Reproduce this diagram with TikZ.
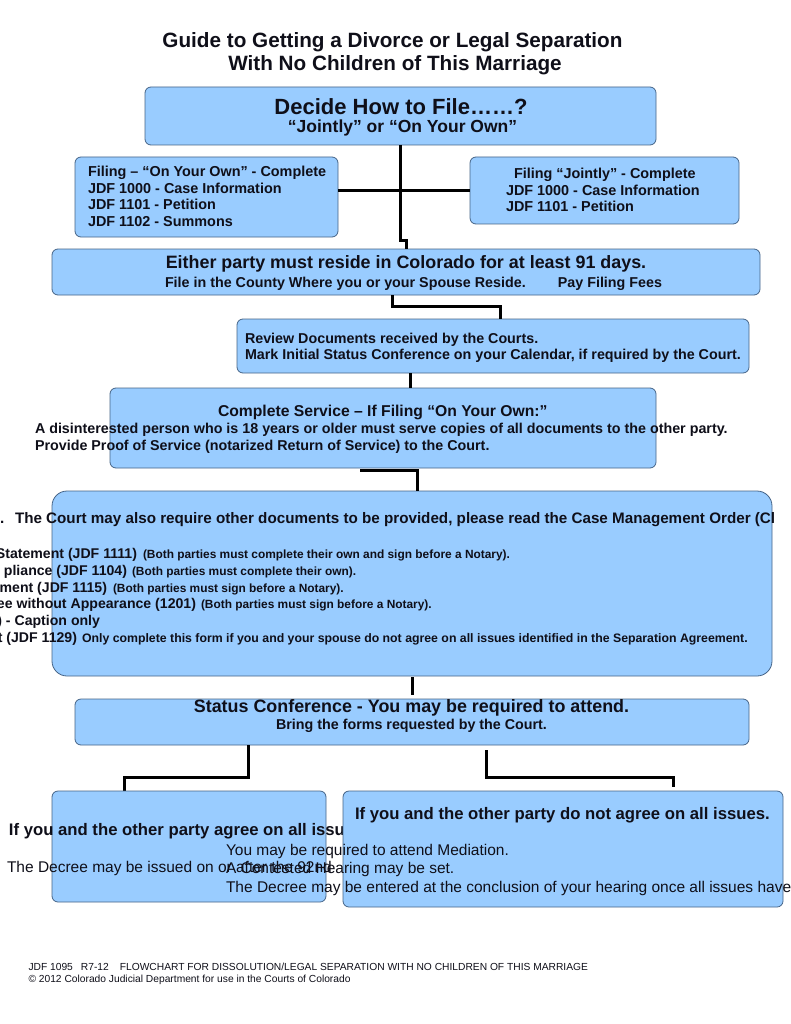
\documentclass[tikz,border=0pt]{standalone}
\usepackage{fontspec}
\setmainfont{Liberation Sans}
\definecolor{boxfill}{RGB}{153,204,255}
\definecolor{boxline}{RGB}{70,100,135}
\definecolor{ink}{RGB}{15,15,25}
\tikzset{
  box/.style={draw=boxline, fill=boxfill, line width=0.8pt, rounded corners=6pt, inner sep=0pt, outer sep=0pt},
  conn/.style={line width=3pt, draw=black},
  tx/.style={inner sep=0pt, outer sep=0pt, text=ink},
  bA/.style={tx, font=\fontsize{20.7}{24}\selectfont\bfseries},
  bB/.style={tx, font=\fontsize{22}{26}\selectfont\bfseries},
  bC/.style={tx, font=\fontsize{17.5}{20}\selectfont\bfseries},
  bD/.style={tx, font=\fontsize{14.4}{17}\selectfont\bfseries},
  bE/.style={tx, font=\fontsize{17.9}{21}\selectfont\bfseries},
  bF/.style={tx, font=\fontsize{14.3}{17}\selectfont\bfseries},
  bS/.style={tx, font=\fontsize{15.7}{19}\selectfont\bfseries},
  bT/.style={tx, font=\fontsize{15.2}{18}\selectfont\bfseries},
  bK/.style={tx, font=\fontsize{14.1}{17}\selectfont\bfseries},
  bG/.style={tx, font=\fontsize{16.7}{20}\selectfont\bfseries},
  bH/.style={tx, font=\fontsize{11.9}{14}\selectfont\bfseries},
  bJ/.style={tx, font=\fontsize{12.3}{14}\selectfont\bfseries},
  rA/.style={tx, font=\fontsize{15.5}{18}\selectfont},
  rB/.style={tx, font=\fontsize{10.25}{12}\selectfont},
}
\begin{document}
\begin{tikzpicture}[x=1pt,y=-1pt]
\useasboundingbox (0,0) rectangle (791,1024);
\fill[white] (0,0) rectangle (791,1024);
\clip (0,0) rectangle (791,1024);

% title
\node[bA, anchor=base] (title1) at (392.5,48) {Guide to Getting a Divorce or Legal Separation};
\node[bA, anchor=base] (title2) at (395,71) {With No Children of This Marriage};

% boxes
\node[box, minimum width=511pt, minimum height=58pt] (decide) at (400.5,116) {};
\node[box, minimum width=263pt, minimum height=80pt] (own) at (206.5,197) {};
\node[box, minimum width=269pt, minimum height=67pt] (joint) at (604.5,190.5) {};
\node[box, minimum width=708pt, minimum height=46pt] (either) at (406,272) {};
\node[box, minimum width=512pt, minimum height=54pt] (review) at (493,346) {};
\node[box, minimum width=546pt, minimum height=80pt] (service) at (383,428) {};
\node[box, rounded corners=15pt, minimum width=720pt, minimum height=185pt] (big) at (412,583.5) {};
\node[box, minimum width=674pt, minimum height=46pt] (status) at (412,722) {};

% connectors
\coordinate (j1) at (406,240);
\draw[conn] (decide.south) |- (j1) -- (j1 |- either.north);
\draw[conn] (own.east |- joint.west) -- (joint.west);
\coordinate (j2a) at (392,306);
\coordinate (j2b) at (500,306);
\draw[conn] (either.south -| j2a) -- (j2a) -- (j2b) -- (j2b |- review.north);
\coordinate (j3) at (410,380);
\draw[conn] (review.south -| j3) -- (service.north -| j3);
\coordinate (j4a) at (360,470);
\coordinate (j4b) at (417,470);
\draw[conn] (j4a) -- (j4b) -- (j4b |- big.north);
\coordinate (j5) at (412,686);
\draw[conn, shorten <=1pt, shorten >=4pt] (big.south -| j5) -- (status.north -| j5);
\coordinate (j6a) at (248,777);
\coordinate (j6b) at (124,777);
\draw[conn] (status.south -| j6a) -- (j6a) -- (j6b) -- (j6b |- 0,791);
\coordinate (j7a) at (486,777);
\coordinate (j7b) at (673,777);
\draw[conn, shorten <=5pt, shorten >=4pt] (status.south -| j7a) -- (j7a) -- (j7b) -- (j7b |- 0,791);

% decide text
\node[bB, anchor=base] (d1) at (401,115) {Decide How to File……?};
\node[bC, anchor=base] (d2) at (402.5,133) {“Jointly” or “On Your Own”};

% own box text
\node[bD, anchor=base west] (o1) at (88,177) {Filing – “On Your Own” - Complete};
\node[bD, anchor=base west] (o2) at (88,193.5) {JDF 1000 - Case Information};
\node[bD, anchor=base west] (o3) at (88,210) {JDF 1101 - Petition};
\node[bD, anchor=base west] (o4) at (88,226.5) {JDF 1102 - Summons};

% joint box text
\node[bD, anchor=base west] (p1) at (514,178.5) {Filing “Jointly” - Complete};
\node[bD, anchor=base west] (p2) at (506,195.5) {JDF 1000 - Case Information};
\node[bD, anchor=base west] (p3) at (506,212) {JDF 1101 - Petition};

% either text
\node[bE, anchor=base] (e1) at (406,268.5) {Either party must reside in Colorado for at least 91 days.};
\node[bF, anchor=base west] (e2) at (165,287.5) {File in the County Where you or your Spouse Reside.};
\node[bF, anchor=base east] (e3) at (662,287.5) {Pay Filing Fees};

% review text
\node[bF, anchor=base west] (r1) at (245,343) {Review Documents received by the Courts.};
\node[bF, anchor=base west] (r2) at (245,359.5) {Mark Initial Status Conference on your Calendar, if required by the Court.};

% service text
\node[bS, anchor=base west] (s1) at (218,416.5) {Complete Service – If Filing “On Your Own:”};
\node[bF, anchor=base west] (s2) at (35,433.5) {A disinterested person who is 18 years or older must serve copies of all documents to the other party.};
\node[bF, anchor=base west] (s3) at (35,450) {Provide Proof of Service (notarized Return of Service) to the Court.};

% big box text
\node[bT, anchor=base west] (g0) at (0,523.5) {.};
\node[bT, anchor=base west] (g1) at (15,523.5) {The Court may also require other documents to be provided, please read the Case Management Order (Cl};
\node[bK, anchor=base east] (g2a) at (137,558) {Statement (JDF 1111)};
\node[bH, anchor=base west] (g2b) at (143,558) {(Both parties must complete their own and sign before a Notary).};
\node[bK, anchor=base east] (g3a) at (127,575) {pliance (JDF 1104)};
\node[bH, anchor=base west] (g3b) at (132,575) {(Both parties must complete their own).};
\node[bK, anchor=base east] (g4a) at (107,592) {ment (JDF 1115)};
\node[bH, anchor=base west] (g4b) at (113,592) {(Both parties must sign before a Notary).};
\node[bK, anchor=base east] (g5a) at (196,608.5) {ee without Appearance (1201)};
\node[bH, anchor=base west] (g5b) at (201,608.5) {(Both parties must sign before a Notary).};
\node[bK, anchor=base east] (g6a) at (100,625) {) - Caption only};
\node[bK, anchor=base east] (g7a) at (77,642) {t (JDF 1129)};
\node[bJ, anchor=base west] (g7b) at (82,642) {Only complete this form if you and your spouse do not agree on all issues identified in the Separation Agreement.};

% status text
\node[bE, anchor=base] (st1) at (411.5,712) {Status Conference - You may be required to attend.};
\node[bF, anchor=base] (st2) at (411.5,729.5) {Bring the forms requested by the Court.};

% agree box
\node[box, minimum width=274pt, minimum height=111pt] (agree) at (189,846.5) {};
\node[bG, anchor=base west] (a1) at (9,835.5) {If you and the other party agree on all issu};
\node[rA, anchor=base west] (a2) at (7,872) {The Decree may be issued on or after the 92nd};

% disagree box
\node[box, minimum width=440pt, minimum height=116pt] (disagree) at (563,849) {};
\node[bG, anchor=base west] (n1) at (355,819) {If you and the other party do not agree on all issues.};
\node[rA, anchor=base west] (n2) at (226,855) {You may be required to attend Mediation.};
\node[rA, anchor=base west] (n3) at (226,873) {A Contested Hearing may be set.};
\node[rA, anchor=base west] (n4) at (226,892) {The Decree may be entered at the conclusion of your hearing once all issues have};

% footer
\node[rB, anchor=base west] (f1) at (28.5,970.5) {JDF 1095\hspace{8pt}R7-12\hspace{11pt}FLOWCHART FOR DISSOLUTION/LEGAL SEPARATION WITH NO CHILDREN OF THIS MARRIAGE};
\node[rB, anchor=base west] (f2) at (28.5,982) {© 2012 Colorado Judicial Department for use in the Courts of Colorado};
\end{tikzpicture}
\end{document}
